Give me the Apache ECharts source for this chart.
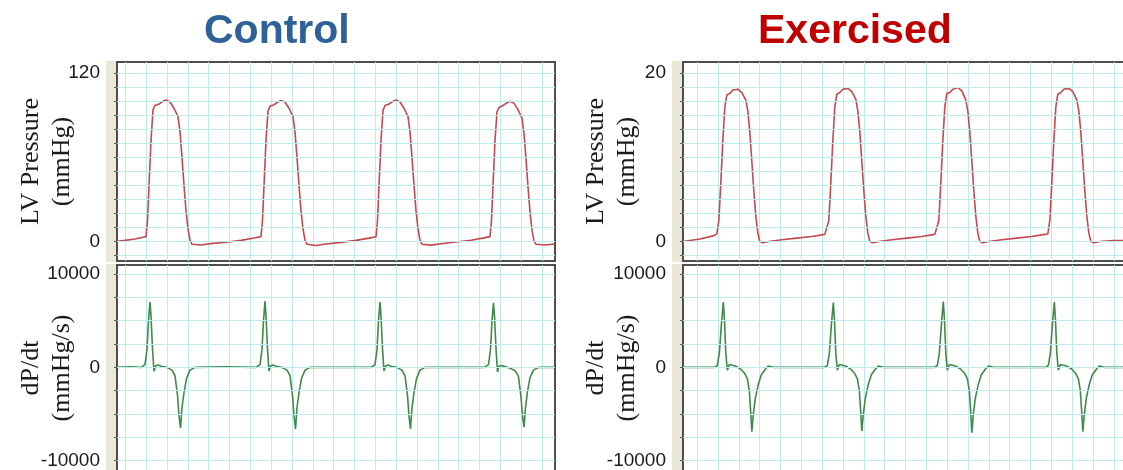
<!DOCTYPE html>
<html>
<head>
<meta charset="utf-8">
<script src="https://cdn.jsdelivr.net/npm/echarts@6/dist/echarts.min.js"></script>
<style>
  html, body { margin: 0; padding: 0; background: #fff; }
  #main { width: 1123px; height: 470px; }
</style>
</head>
<body>
<div id="main"></div>
<script>
// time in ms, pressure in mmHg, dP/dt in mmHg/s
const ctrlPressT = [0, 9.6, 21.6, 31.2,
  34.8, 36.6, 38.4, 40.8, 43.2, 45.6, 50.4, 55.2, 58.8, 63.6, 68.4, 73.2, 75.6, 78, 80.4, 82.8, 85.2, 87.6, 90, 92.4, 100.8, 112.8, 130.8, 148.8, 164.4,
  172.8, 174.6, 176.4, 178.8, 181.2, 183.6, 188.4, 193.2, 196.8, 201.6, 206.4, 211.2, 213.6, 216, 218.4, 220.8, 223.2, 225.6, 228, 230.4, 238.8, 250.8, 268.8, 286.8, 302.4,
  310.8, 312.6, 314.4, 316.8, 319.2, 321.6, 326.4, 331.2, 334.8, 339.6, 344.4, 349.2, 351.6, 354, 356.4, 358.8, 361.2, 363.6, 366, 368.4, 376.8, 388.8, 406.8, 424.8, 440.4,
  447.6, 449.4, 451.2, 453.6, 456, 458.4, 463.2, 468, 471.6, 476.4, 481.2, 486, 488.4, 490.8, 493.2, 495.6, 498, 500.4, 502.8, 505.2, 513.6, 525]
const ctrlPress = [0.2, 0.8, 1.8, 3,
  3.5, 15, 40, 72, 94, 97, 98, 100, 101, 99.5, 95, 89, 78, 60, 40, 22, 9, 1, -2, -3, -2.5, -1.5, -0.5, 0.8, 2.5,
  3.5, 15, 40, 72, 93, 96.5, 97.5, 99.5, 100.5, 99.5, 95, 89, 78, 60, 40, 22, 9, 1, -2, -3.2, -2.8, -1.8, -0.6, 0.8, 2.4,
  3.4, 15, 40, 72, 93.5, 97, 98, 100, 101, 99.5, 95, 89, 78, 60, 40, 22, 9, 1, -2, -3, -2.6, -1.6, -0.4, 0.9, 2.6,
  3.5, 15, 40, 72, 92.5, 95.5, 97, 99, 100, 98.5, 94, 88, 77, 59, 39, 21, 8, 0.5, -2, -3, -2.5, -1.8]

const ctrlDpT = [0, 15.6,
  28.8, 33.6, 36, 37.8, 39.6, 40.8, 42.6, 44.4, 46.2, 49.2, 54, 60, 66, 69.6, 72.6, 74.4, 76.2, 78, 80.4, 83.4, 87.6, 93.6, 129.6,
  166.8, 171.6, 174, 175.8, 177.6, 178.8, 180.6, 182.4, 184.2, 187.2, 192, 198, 204, 207.6, 210.6, 212.4, 214.2, 216, 218.4, 221.4, 225.6, 231.6, 267.6,
  304.8, 309.6, 312, 313.8, 315.6, 316.8, 318.6, 320.4, 322.2, 325.2, 330, 336, 342, 345.6, 348.6, 350.4, 352.2, 354, 356.4, 359.4, 363.6, 369.6, 405.6,
  441, 445.8, 448.2, 450, 451.8, 453, 454.8, 456.6, 458.4, 461.4, 466.2, 472.2, 478.2, 481.8, 484.8, 486.6, 488.4, 490.2, 492.6, 495.6, 499.8, 505.8, 525]
const ctrlDp = [0, 50,
  0, 300, 1900, 5000, 7000, 5500, 2000, -400, 150, 250, 100, 0, -300, -900, -3000, -5200, -6500, -4300, -2700, -1200, -300, 0, 50,
  0, 300, 1900, 5000, 7100, 5500, 2000, -400, 150, 250, 100, 0, -300, -900, -3000, -5200, -6600, -4300, -2700, -1200, -300, 0, 0,
  0, 300, 1900, 5000, 7000, 5500, 2000, -400, 150, 250, 100, 0, -300, -900, -3000, -5200, -6600, -4300, -2700, -1200, -300, 0, 0,
  0, 300, 1900, 5000, 6900, 5500, 2000, -500, 150, 200, 50, -100, -400, -1000, -3200, -5200, -6400, -4300, -2600, -1100, -300, 0, 0]

const exPressT = [0, 20.4, 37.2,
  40.6, 43, 45.4, 47.8, 50.2, 52.6, 56.2, 59.8, 65.8, 70.6, 75.4, 77.8, 80.2, 82.6, 85, 87.4, 89.8, 92.2, 95.8, 103, 118.6, 136.6, 154.6, 170.2,
  172.6, 175, 177.4, 179.8, 182.2, 184.6, 188.2, 191.8, 197.8, 202.6, 207.4, 209.8, 212.2, 214.6, 217, 219.4, 221.8, 224.2, 227.8, 235, 250.6, 268.6, 286.6, 302.2,
  304.6, 307, 309.4, 311.8, 314.2, 316.6, 320.2, 323.8, 329.8, 334.6, 339.4, 341.8, 344.2, 346.6, 349, 351.4, 353.8, 356.2, 359.8, 367, 382.6, 400.6, 418.6, 434.2,
  437.8, 440.2, 442.6, 445, 447.4, 449.8, 453.4, 457, 463, 467.8, 472.6, 475, 477.4, 479.8, 482.2, 484.6, 487, 489.4, 493, 500.2, 515.8, 530]
const exPress = [0, 0.3, 0.7,
  0.9, 2.5, 7, 12, 16, 17.4, 17.6, 18, 18.1, 17.7, 16.8, 15.5, 13, 9.5, 6, 3, 1, 0, -0.15, 0, 0.2, 0.4, 0.6, 0.85,
  0.9, 2.5, 7, 12, 16, 17.5, 17.7, 18.1, 18.2, 17.8, 16.9, 15.5, 13, 9.5, 6, 3, 1, 0, -0.15, 0, 0.2, 0.4, 0.6, 0.85,
  0.9, 2.5, 7, 12, 16, 17.6, 17.7, 18.1, 18.3, 17.9, 16.8, 15.5, 13, 9.5, 6, 3, 1, 0, -0.15, 0, 0.2, 0.4, 0.6, 0.85,
  0.9, 2.5, 7, 12, 16, 17.5, 17.7, 18.1, 18.2, 17.8, 16.8, 15.5, 13, 9.5, 6, 3, 1, 0, -0.15, 0, 0.1, 0.1]

const exDpT = [0, 20,
  37.6, 41.2, 43.6, 46, 48.4, 49.8, 51.4, 53.2, 55.6, 58, 62.8, 68.8, 73.6, 77.2, 79.6, 81.4, 82.6, 84.4, 86.8, 90.4, 94, 98.8, 102.4, 108.4,
  169.6, 173.2, 175.6, 178, 180.4, 181.8, 183.4, 185.2, 187.6, 190, 194.8, 200.8, 205.6, 209.2, 211.6, 213.4, 214.6, 216.4, 218.8, 222.4, 226, 230.8, 234.4, 240.4,
  301.6, 305.2, 307.6, 310, 312.4, 313.8, 315.4, 317.2, 319.6, 322, 326.8, 332.8, 337.6, 341.2, 343.6, 345.4, 346.6, 348.4, 350.8, 354.4, 358, 362.8, 366.4, 372.4,
  434.8, 438.4, 440.8, 443.2, 445.6, 447, 448.6, 450.4, 452.8, 455.2, 460, 466, 470.8, 474.4, 476.8, 478.6, 479.8, 481.6, 484, 487.6, 491.2, 496, 499.6, 505.6, 530]
const exDp = [0, 0,
  0, 200, 1500, 4500, 7000, 5000, 1500, -300, 300, 400, 150, -150, -600, -1200, -2500, -5000, -6900, -5000, -3300, -1800, -800, -200, 150, 0,
  0, 200, 1500, 4500, 6950, 5000, 1500, -300, 300, 400, 150, -150, -600, -1200, -2500, -5000, -6800, -5000, -3300, -1800, -800, -200, 150, 0,
  0, 200, 1500, 4500, 7050, 5000, 1500, -300, 300, 400, 150, -150, -600, -1200, -2500, -5000, -7000, -5000, -3300, -1800, -800, -200, 150, 0,
  0, 200, 1500, 4500, 7000, 5000, 1500, -300, 300, 400, 150, -150, -600, -1200, -2500, -5000, -6900, -5000, -3300, -1800, -800, -200, 150, 0, 0]

// axis ticks / labels
const pressTicks = [-10, 0, 10, 20, 30, 40, 50, 60, 70, 80, 90, 100, 110, 120]
const pressLabels = [0, 120]
const exPressTicks = [-1.667, 0, 1.667, 3.333, 5, 6.667, 8.333, 10, 11.667, 13.333, 15, 16.667, 18.333, 20]
const exPressLabels = [0, 20]
const dpTicks = [-10000, -7500, -5000, -2500, 0, 2500, 5000, 7500, 10000]
const dpLabels = [-10000, 0, 10000]
const ctrlTimeLines = [10, 35, 60, 85, 110, 135, 160, 185, 210, 235, 260, 285, 310, 335, 360, 385, 410, 435, 460, 485, 510]
const exTimeLines = [17, 42, 67, 92, 117, 142, 167, 192, 217, 242, 267, 292, 317, 342, 367, 392, 417, 442, 467, 492, 517]

const pairs = (ts, vs) => ts.map((t, i) => [t, vs[i]])

const gridLine = { show: true, lineStyle: { color: '#bdeced', width: 1 } }
const nameFont = { fontFamily: 'Liberation Serif', fontSize: 26, lineHeight: 31, color: '#1a1a1a' }

function xAx(gi, max, lines) {
  return {
    type: 'value', gridIndex: gi, min: 0, max: max,
    axisLine: { show: false },
    axisTick: { show: false, customValues: lines },
    axisLabel: { show: false },
    splitLine: gridLine
  }
}

function yAx(gi, min, max, ticks, labels, name, gap) {
  return {
    type: 'value', gridIndex: gi, min: min, max: max, offset: 5, z: 5,
    name: name, nameLocation: 'middle', nameRotate: 90, nameGap: gap, nameTextStyle: nameFont,
    nameMoveOverlap: false,
    axisLine: { show: false },
    axisTick: { show: true, length: 3, customValues: ticks, lineStyle: { color: '#555' } },
    axisLabel: {
      customValues: labels, margin: 12, formatter: v => String(v),
      fontFamily: 'Liberation Sans', fontSize: 19, color: '#1a1a1a'
    },
    splitLine: gridLine
  }
}

const strip = (x, y, h) => ({
  type: 'rect', shape: { x: x, y: y, width: 10, height: h },
  style: { fill: '#ebe8d8' }, silent: true
})

const myChart = echarts.init(document.getElementById('main'))

myChart.setOption({
  animation: false,
  backgroundColor: '#fff',
  title: [
    { text: 'Control', left: 204, top: 11, padding: 0,
      textStyle: { fontFamily: 'Liberation Sans', fontWeight: 'bold', fontSize: 41, color: '#2e6198' } },
    { text: 'Exercised', left: 758, top: 11, padding: 0,
      textStyle: { fontFamily: 'Liberation Sans', fontWeight: 'bold', fontSize: 41, color: '#c00000' } }
  ],
  graphic: {
    elements: [strip(106, 61, 201), strip(106, 264, 206), strip(672, 61, 201), strip(672, 264, 206)]
  },
  grid: [
    { left: 117, top: 62, width: 438, height: 199 },
    { left: 117, top: 265, width: 438, height: 206 },
    { left: 683, top: 62, width: 442, height: 199 },
    { left: 683, top: 265, width: 442, height: 206 }
  ].map(g => Object.assign(g, {
    show: true, backgroundColor: '#fff', borderColor: '#4d4d4d', borderWidth: 2,
    containLabel: false, outerBoundsMode: 'none'
  })),
  xAxis: [
    xAx(0, 525.6, ctrlTimeLines),
    xAx(1, 525.6, ctrlTimeLines),
    xAx(2, 530.4, exTimeLines),
    xAx(3, 530.4, exTimeLines)
  ],
  yAxis: [
    yAx(0, -13.9, 128, pressTicks, pressLabels, 'LV Pressure\n(mmHg)', 34),
    yAx(1, -11100, 10960, dpTicks, dpLabels, 'dP/dt\n(mmHg/s)', 34),
    yAx(2, -2.317, 21.33, exPressTicks, exPressLabels, 'LV Pressure\n(mmHg)', 35),
    yAx(3, -11100, 10960, dpTicks, dpLabels, 'dP/dt\n(mmHg/s)', 35)
  ],
  series: [
    { name: 'Control LVP', type: 'line', xAxisIndex: 0, yAxisIndex: 0, data: pairs(ctrlPressT, ctrlPress),
      showSymbol: false, lineStyle: { color: '#c4484e', width: 1.6 } },
    { name: 'Control dP/dt', type: 'line', xAxisIndex: 1, yAxisIndex: 1, data: pairs(ctrlDpT, ctrlDp),
      showSymbol: false, lineStyle: { color: '#3f8a4b', width: 1.6 } },
    { name: 'Exercised LVP', type: 'line', xAxisIndex: 2, yAxisIndex: 2, data: pairs(exPressT, exPress),
      showSymbol: false, lineStyle: { color: '#c4484e', width: 1.6 } },
    { name: 'Exercised dP/dt', type: 'line', xAxisIndex: 3, yAxisIndex: 3, data: pairs(exDpT, exDp),
      showSymbol: false, lineStyle: { color: '#3f8a4b', width: 1.6 } }
  ]
})
</script>
</body>
</html>
